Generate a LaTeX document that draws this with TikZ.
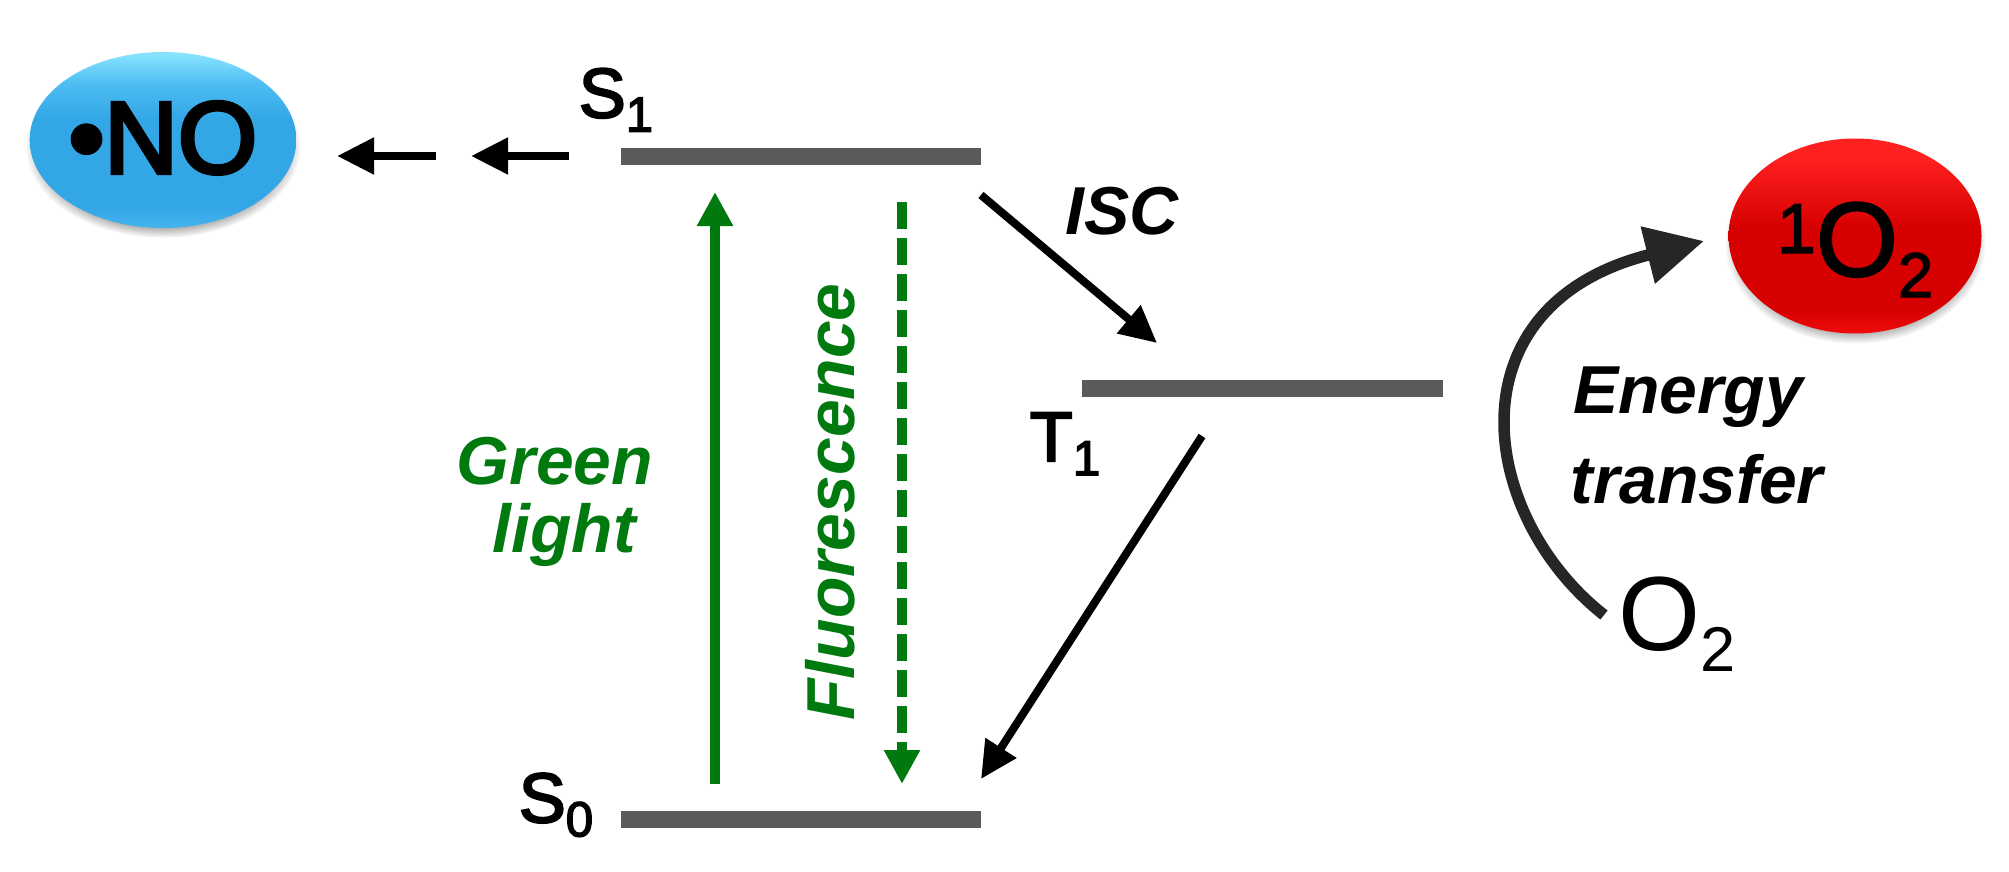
\documentclass[tikz,border=0pt]{standalone}
\usepackage{fontspec}
\setmainfont{Liberation Sans}
\usetikzlibrary{arrows.meta,shapes.geometric,shadows}
\definecolor{levelgray}{HTML}{5A5A5A}
\definecolor{lightgreen}{HTML}{007A0E}
\definecolor{curvegray}{HTML}{262626}
\definecolor{ballblueB}{HTML}{45B4EE}
\definecolor{ballblueC}{HTML}{33A6E6}
\definecolor{ballblueD}{HTML}{4DBDF2}
\definecolor{ballblueT}{HTML}{86E2FF}
\definecolor{ballredB}{HTML}{F00C0C}
\definecolor{ballredC}{HTML}{D60000}
\definecolor{ballredT}{HTML}{FF2020}
\pgfdeclareverticalshading{blueball}{100bp}{color(0bp)=(ballblueB);color(25bp)=(ballblueB);color(31bp)=(ballblueC);color(56bp)=(ballblueC);color(66bp)=(ballblueD);color(74bp)=(ballblueT);color(100bp)=(ballblueT)}
\pgfdeclareverticalshading{redball}{100bp}{color(0bp)=(ballredB);color(25bp)=(ballredB);color(31bp)=(ballredC);color(52bp)=(ballredC);color(70bp)=(ballredT);color(100bp)=(ballredT)}
\newcommand{\lowtxt}[2]{\raisebox{-.2em}{\fontsize{#1}{#1}\selectfont #2}}
\tikzset{
  level/.style={fill=levelgray, inner sep=0pt, minimum height=0.17cm},
  ball/.style={ellipse, inner sep=0pt, text=black, circular drop shadow={shadow xshift=0cm, shadow yshift=-0.07cm, shadow scale=1.03, opacity=.8}},
  statelabel/.style={inner sep=0pt, font=\fontsize{20}{20}\selectfont\addfontfeature{FakeBold=3}},
  itlabel/.style={inner sep=0pt, font=\fontsize{19.3}{19.3}\selectfont\bfseries\itshape},
  blackarrow/.style={-{Triangle[length=0.37cm,width=0.35cm]}, line width=0.08cm, black},
  greenarrow/.style={-{Triangle[length=0.34cm,width=0.34cm]}, line width=0.10cm, lightgreen},
}
\begin{document}
\begin{tikzpicture}
\useasboundingbox (0,0) rectangle (20.09,8.71);
% energy levels
\node[level, minimum width=3.60cm] (S1) at (8.01,7.15) {};
\node[level, minimum width=3.60cm] (S0) at (8.01,0.52) {};
\node[level, minimum width=3.61cm] (T1) at (12.62,4.83) {};
\node[statelabel] (S1lab) at (6.16,7.71) {S\lowtxt{14}{1}};
\node[statelabel] (S0lab) at (5.56,0.66) {S\lowtxt{14}{0}};
\node[statelabel] (T1lab) at (10.65,4.27) {T\lowtxt{14}{1}};
% molecules
\node[ball, shading=blueball, minimum width=2.66cm, minimum height=1.76cm] (NO) at (1.63,7.31)
  {\smash{\raisebox{-.33cm}{\fontsize{29}{29}\selectfont\addfontfeature{FakeBold=4}•NO}}};
\node[ball, shading=redball, minimum width=2.53cm, minimum height=1.95cm] (singlet) at (18.55,6.35)
  {\smash{\raisebox{-.40cm}{\fontsize{30}{30}\selectfont\addfontfeature{FakeBold=2}\raisebox{.22em}{\fontsize{20}{20}\selectfont 1}O\lowtxt{18}{2}}}};
\node[inner sep=0pt, font=\fontsize{30}{30}\selectfont] (O2) at (16.77,2.47) {O\lowtxt{18}{2}};
% arrow ends
\coordinate (a1) at (4.36,7.15);
\coordinate (a2) at (3.37,7.15);
\coordinate (a3) at (5.69,7.15);
\coordinate (a4) at (4.71,7.15);
\coordinate (gl0) at (7.15,0.87);
\coordinate (gl1) at (7.15,6.79);
\coordinate (fl0) at (9.02,6.69);
\coordinate (fl1) at (9.02,0.87);
\coordinate (isc0) at (9.81,6.76);
\coordinate (isc1) at (11.57,5.28);
\coordinate (ph0) at (12.02,4.35);
\coordinate (ph1) at (9.81,0.92);
\coordinate (et0) at (16.04,2.56);
\coordinate (et1) at (17.04,6.30);
\draw[blackarrow] (a1) -- (a2);
\draw[blackarrow] (a3) -- (a4);
\draw[greenarrow] (gl0) -- (gl1);
\draw[greenarrow, dash pattern=on 0.27cm off 0.09cm] (fl0) -- (fl1);
\draw[blackarrow] (isc0) -- (isc1);
\draw[blackarrow] (ph0) -- (ph1);
\draw[-{Triangle[length=0.58cm,width=0.56cm]}, line width=0.115cm, curvegray]
  (et0) .. controls (14.78,3.55) and (14.48,5.66) .. (et1);
% labels
\node[itlabel, text=lightgreen] (green) at (5.55,4.10) {Green};
\node[itlabel, text=lightgreen] (light) at (5.64,3.36) {light};
\node[itlabel, text=lightgreen, rotate=90] (fluo) at (8.30,3.69) {Fluorescence};
\node[itlabel] (isc) at (11.22,6.60) {ISC};
\node[itlabel] (energy) at (16.88,4.74) {Energy};
\node[itlabel] (transfer) at (16.97,3.92) {transfer};
\end{tikzpicture}
\end{document}
